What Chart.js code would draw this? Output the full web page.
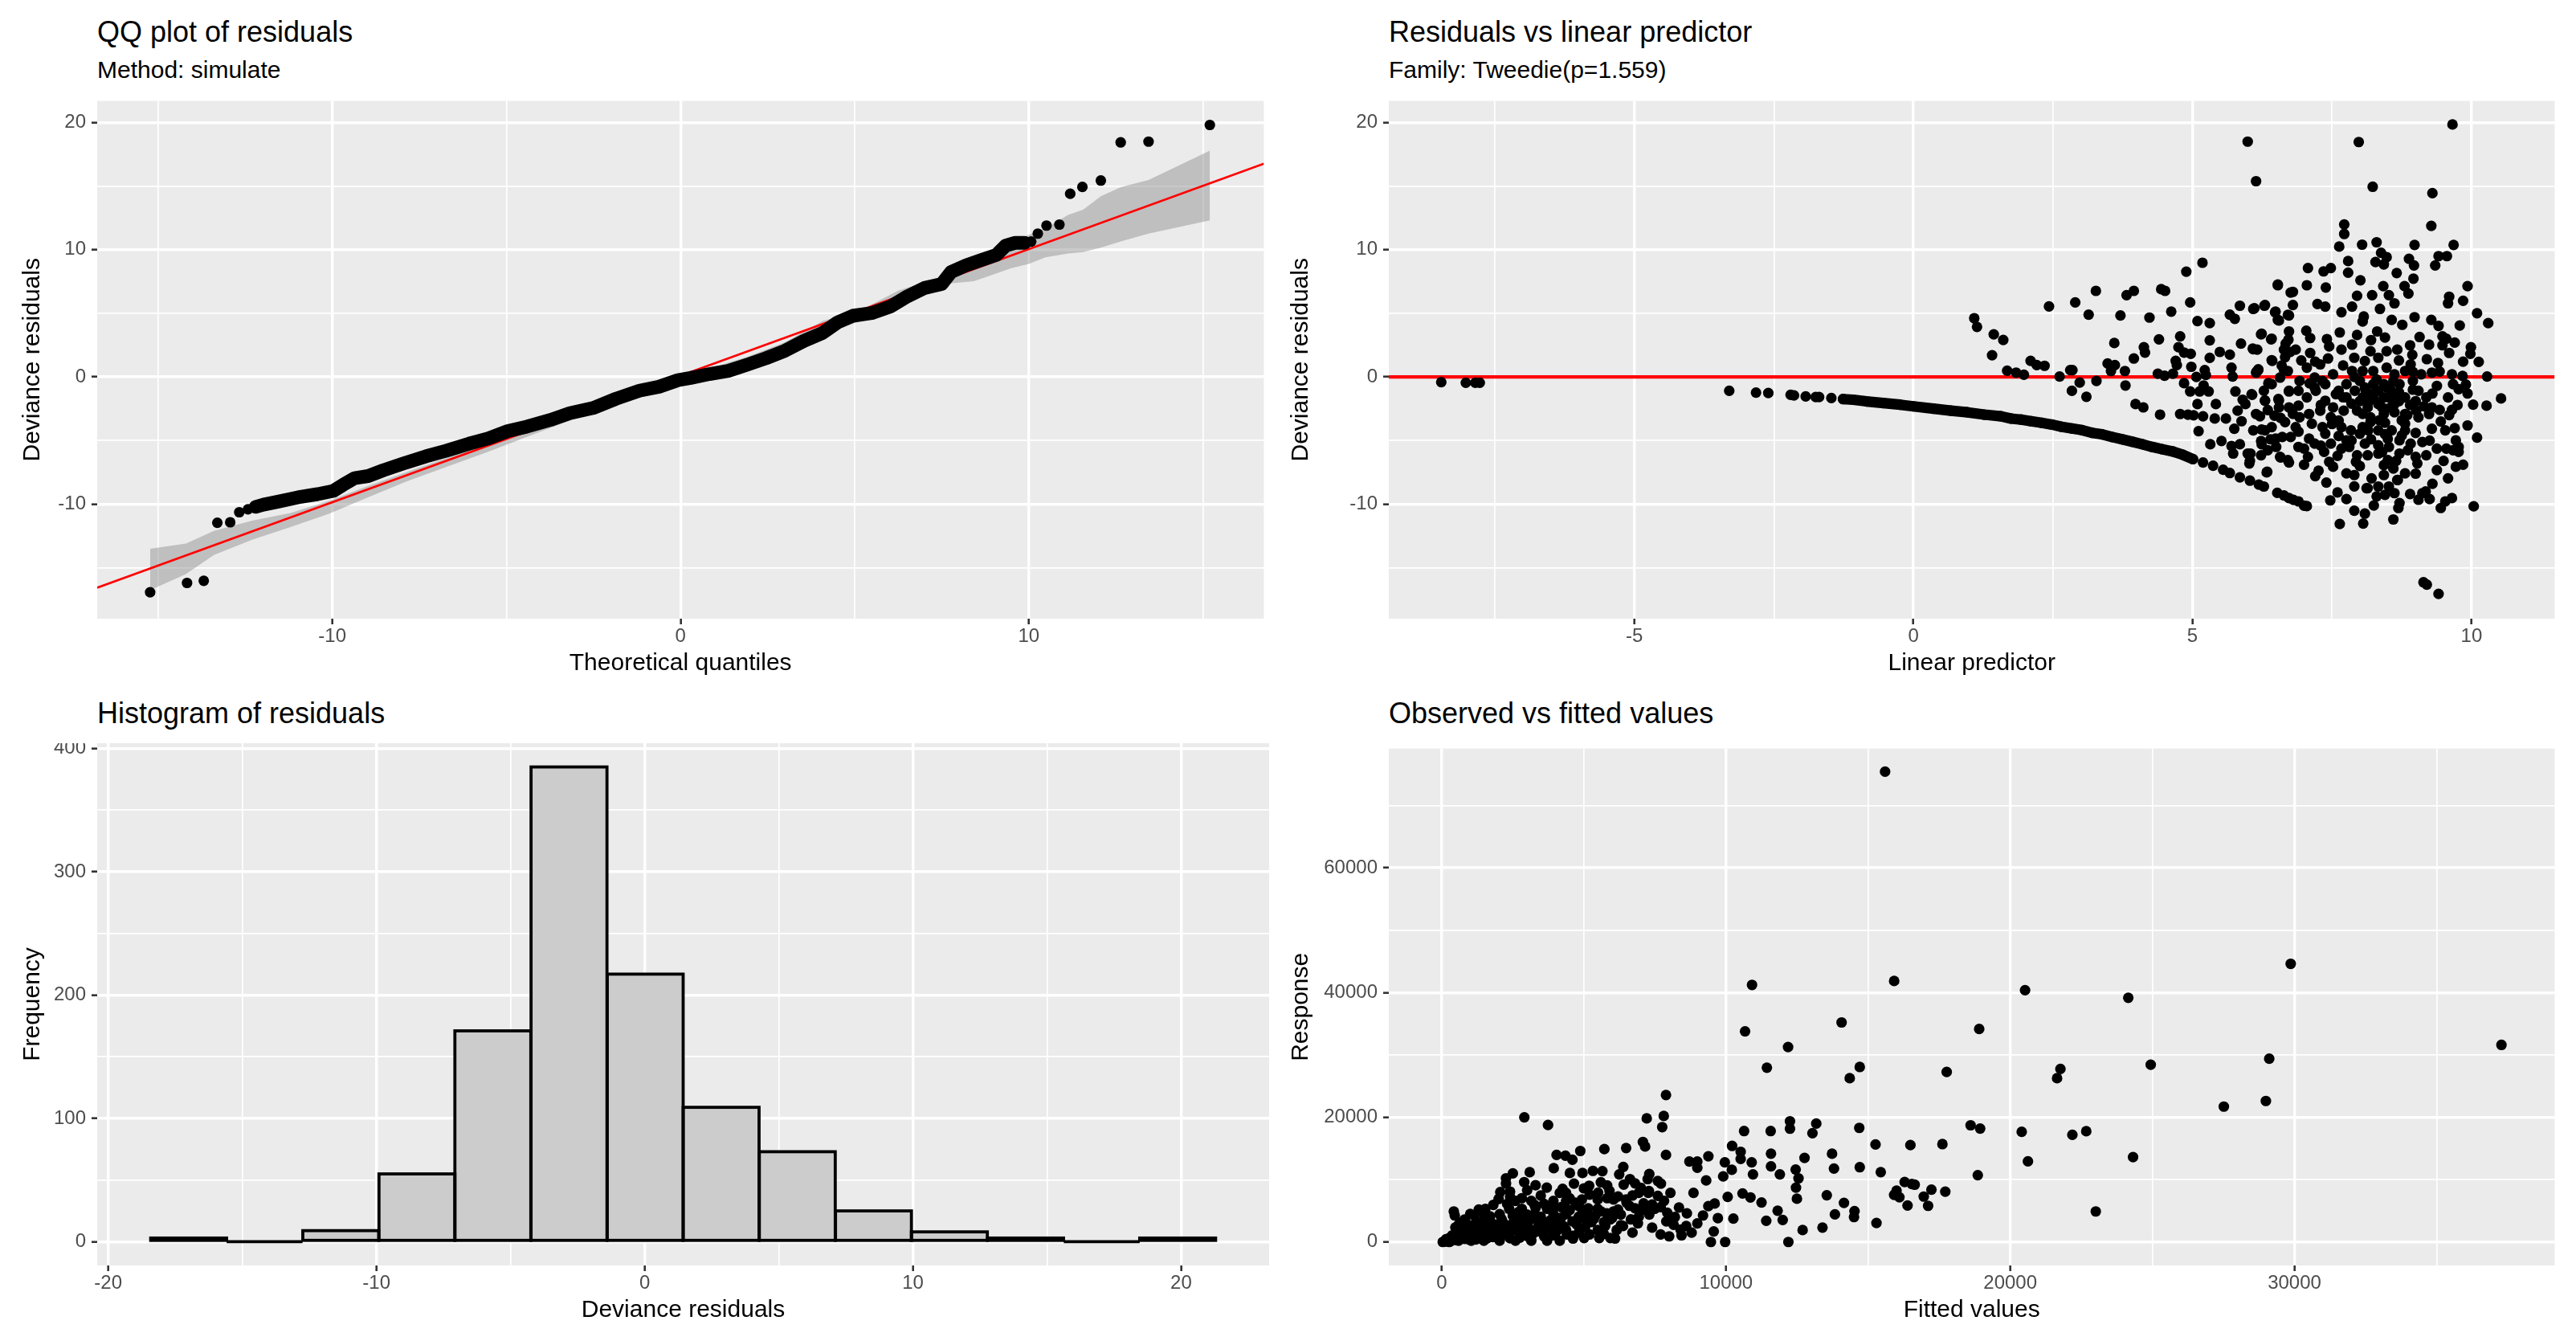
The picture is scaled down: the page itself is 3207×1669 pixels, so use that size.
<!DOCTYPE html>
<html><head><meta charset="utf-8">
<script src="https://cdn.jsdelivr.net/npm/chart.js@4.4.1/dist/chart.umd.min.js"></script>
<style>
html,body{margin:0;padding:0;background:#fff}
body{width:3207px;height:1669px;position:relative;overflow:hidden;font-family:'Liberation Sans',Arial,sans-serif}
.t{position:absolute;white-space:nowrap;line-height:1;color:#000}
.big{font-size:36px}.sub{font-size:30px}
canvas{position:absolute}
</style></head><body>
<div class="t big" style="left:121px;top:21.5px">QQ plot of residuals</div>
<div class="t sub" style="left:121px;top:71.6px">Method: simulate</div>
<div class="t big" style="left:1729px;top:21.5px">Residuals vs linear predictor</div>
<div class="t sub" style="left:1729px;top:71.6px">Family: Tweedie(p=1.559)</div>
<div class="t big" style="left:121px;top:869.5px">Histogram of residuals</div>
<div class="t big" style="left:1729px;top:869.5px">Observed vs fitted values</div>
<canvas id="c1" width="1580" height="731" style="left:0px;top:119px"></canvas>
<canvas id="c2" width="1587" height="731" style="left:1600px;top:119px"></canvas>
<canvas id="c3" width="1580" height="730" style="left:0px;top:925px"></canvas>
<canvas id="c4" width="1587" height="730" style="left:1600px;top:925px"></canvas>
<script>
// ---------- DATA ----------
// QQ plot: dense band of points (theoretical, observed)
const qqBand = [[-12.2,-10.21],[-11.98,-10.04],[-11.53,-9.79],[-10.98,-9.46],[-10.42,-9.21],[-9.97,-8.96],[-9.69,-8.48],[-9.36,-7.96],[-8.97,-7.79],[-8.53,-7.33],[-7.97,-6.81],[-7.30,-6.23],[-6.74,-5.81],[-6.08,-5.25],[-5.52,-4.83],[-4.96,-4.25],[-4.41,-3.90],[-3.74,-3.38],[-3.18,-2.85],[-2.51,-2.44],[-1.85,-1.71],[-1.18,-1.08],[-0.62,-0.77],[-0.07,-0.25],[0.29,-0.08],[0.83,0.23],[1.37,0.48],[1.91,0.96],[2.46,1.48],[3.0,2.06],[3.54,2.83],[4.08,3.46],[4.51,4.29],[4.95,4.81],[5.49,5.02],[6.03,5.54],[6.47,6.27],[7.01,7.0],[7.50,7.31],[7.77,8.25],[8.20,8.77],[8.63,9.19],[9.07,9.6],[9.34,10.33],[9.61,10.54],[9.88,10.54]];
const qqOutliers = [[-15.23,-16.92],[-14.17,-16.19],[-13.69,-16.02],[-13.30,-11.46],[-12.93,-11.42],[-12.67,-10.63],[-12.42,-10.40],[10.07,10.65],[10.26,11.27],[10.51,11.9],[10.88,11.98],[11.19,14.4],[11.54,14.94],[12.07,15.44],[12.64,18.44],[13.44,18.5],[15.2,19.81]];
// QQ reference band
const ribbonX  = [-15.23,-14.2,-13.4,-12.3,-11.2,-10.1,-9.0,-7.9,-6.7,-5.6,-4.5,-3.4,-2.3,-1.2,0.29,1.91,3.0,4.08,5.17,6.25,7.55,8.42,8.96,9.5,10.0,10.48,11.13,11.56,12.07,12.64,13.44,15.2];
const ribbonLo = [-16.75,-15.5,-14.0,-12.8,-11.8,-10.75,-9.5,-8.25,-7.05,-5.95,-4.8,-3.65,-2.55,-1.45,-0.19,0.85,2.0,3.35,4.4,5.85,7.31,7.52,8.04,8.56,8.88,9.4,9.71,9.81,10.17,10.65,11.27,12.31];
const ribbonHi = [-13.5,-13.1,-12.1,-11.3,-10.7,-9.75,-8.6,-7.5,-6.35,-5.25,-4.2,-3.1,-2.0,-0.9,0.23,1.58,2.73,4.4,5.23,6.79,7.94,9.19,9.6,10.65,11.17,11.69,12.73,13.15,14.2,14.92,15.48,17.79];
const qqSlope = 0.995, qqIntercept = 0.1;

// Residuals vs linear predictor
const lpCurve = [[-1.26,-1.74],[-1.08,-1.79],[-0.84,-1.92],[-0.54,-2.05],[-0.24,-2.18],[0,-2.31],[0.36,-2.49],[0.67,-2.65],[0.97,-2.78],[1.27,-2.96],[1.57,-3.09],[1.75,-3.27],[1.93,-3.35],[2.11,-3.48],[2.30,-3.61],[2.48,-3.74],[2.66,-3.92],[2.84,-4.05],[3.02,-4.18],[3.20,-4.39],[3.38,-4.51],[3.56,-4.72],[3.74,-4.90],[3.92,-5.09],[4.10,-5.29],[4.28,-5.50],[4.46,-5.68],[4.65,-5.86],[4.83,-6.12],[5.01,-6.46]];
const lpPoints = [[-8.46,-0.41],[-8.02,-0.45],[-7.85,-0.45],[-7.77,-0.45],[-3.30,-1.09],[-2.82,-1.23],[-2.60,-1.26],[-2.20,-1.40],[-2.14,-1.45],[-1.93,-1.53],[-1.75,-1.58],[-1.69,-1.58],[-1.47,-1.66],
[5.19,-6.72],[5.37,-6.98],[5.55,-7.29],[5.67,-7.55],[5.85,-7.89],[6.03,-8.15],[6.19,-8.46],[6.28,-8.61],[6.52,-9.11],[6.64,-9.31],[6.73,-9.52],[6.81,-9.66],[6.90,-9.78],[7.0,-10.12],[7.05,-10.15],
[5.99,18.50],[6.14,15.39],[1.09,4.62],[1.14,3.94],[1.44,3.35],[1.61,2.91],[1.41,1.71],[1.68,0.49],[1.84,0.34],[1.98,0.18],[2.10,1.27],[2.21,0.93],[2.35,0.88],[2.43,5.55],[2.62,0.03],[2.81,0.54],[2.85,0.54],[2.90,5.86],[2.84,-1.09],[2.98,-0.44],[3.10,-1.56],[3.14,4.90],[3.27,6.77],[3.28,-0.31],[3.48,1.06],[3.54,0.47],[3.61,0.93],[3.60,2.67],[3.71,4.83],[3.79,0.47],[3.80,-0.67],[3.82,6.43],[3.95,6.77],[3.95,1.45],[3.98,-2.13],[4.12,-2.39],[4.13,2.34],[4.15,1.92],[4.23,4.67],[4.40,2.96],[4.38,0.26],[4.44,6.90],[4.51,6.77],[4.42,-2.96],[4.50,0.10],[4.62,5.14],[4.65,0.26],[4.70,1.27],[4.72,0.93],[4.75,2.34],[4.78,3.19],[4.78,-2.91],[4.85,1.92],[4.85,-0.49],[4.89,8.28],[4.92,-2.96],[4.96,-1.14],[4.96,5.86],[4.97,1.82],[4.98,0.80],[5.02,-3.01],[5.07,0],[5.09,4.39],[5.09,-2.13],[5.11,-4.26],[5.13,-1.14],[5.18,8.98],[5.19,-3.09],[5.20,-0.67],[5.22,0.54],[5.24,0.16],[5.29,-1.14],[5.31,4.23],[5.31,2.88],[5.31,1.50],[5.32,-5.29],[5.42,-2.13],[5.40,-3.27],[5.49,1.97],[5.52,-5.03],[5.60,-3.27],[5.67,4.90],[5.67,1.76],[5.70,0.73],[5.72,0.03],[5.76,4.57],[5.77,-1.14],[5.81,-2.65],[5.85,5.60],[5.87,2.62],[5.88,-3.48],[5.90,-1.79],[5.75,-4.07],[5.70,-5.42],[5.73,-6.02],[5.85,-5.29],[5.99,-6.02],[6.03,-6.59],[6.07,-1.40],[6.09,5.35],[6.09,2.18],[6.15,0.42],[6.18,0.54],[6.21,-3.09],[6.23,3.35],[6.29,5.60],[6.30,-1.84],[6.24,-4.13],[6.24,-5.29],[6.33,-7.50],[6.36,-0.49],[6.40,-4.90],[6.43,1.27],[6.41,2.96],[6.48,5.09],[6.53,7.21],[6.55,-1.84],[6.55,4.44],[6.58,-6.33],[6.58,-3.22],[6.64,0.54],[6.67,2.62],[6.73,-6.72],[6.73,4.83],[6.76,6.64],[6.73,-1.14],[6.73,-2.39],[6.75,1.97],
[7.98,18.47],[8.23,14.95],[9.30,14.45],[9.66,19.85],[9.28,11.88],[7.72,11.99],[7.72,11.24],[7.63,10.25],[8.04,10.4],[8.30,10.59],[8.98,10.38],[9.68,10.38],[9.41,9.50],[9.56,9.50],[9.35,8.77],[8.38,9.76],[8.48,9.42],[8.28,9.03],[8.43,8.85],[8.88,9.29],[8.97,8.77],[8.96,7.73],[8.66,8.17],[7.79,9.11],[7.79,8.20],[7.07,8.56],[7.35,8.30],[7.48,8.56],[8.01,7.60],[7.05,7.21],[7.39,7.03],[6.53,7.27],[6.80,6.69],[8.42,7.14],[8.80,7.14],[8.87,6.56],[8.22,6.43],[7.95,6.38],[8.52,6.43],[8.62,5.79],[9.93,7.14],[9.60,6.31],[9.85,5.99],[9.58,5.79],[10.10,5.01],[10.30,4.23],[9.79,4.05],[9.28,4.49],[8.98,4.70],[9.41,4.02],[9.48,3.19],[9.99,2.34],[9.98,1.82],[10.13,1.19],[10.28,0.03],[10.53,-1.69],[9.60,1.89],[9.48,2.49],[9.07,3.14],[9.24,2.54],[8.94,1.74],[8.90,2.49],[8.76,4.10],[8.57,4.49],[8.36,5.35],[8.07,4.75],[7.86,5.53],[7.67,5.09],[7.38,5.53],[7.24,5.73],[6.80,5.66],[6.71,4.88],[6.49,5.14],[6.53,4.49],[6.30,5.66],[6.11,5.40],[6.24,3.40],[6.42,3.01],[6.73,3.58],[6.72,2.93],[7.04,3.63],[7.11,3.06],[7.41,2.98],[7.64,3.50],[7.86,2.54],[8.05,4.36],[8.31,3.58],[6.08,2.23],[6.16,2.15],[6.64,2.15],[6.85,2.15],[6.42,1.32],[6.66,1.56],[7.11,1.89],[7.43,1.45],[7.67,2.15],[7.90,1.51],[8.09,1.25],[8.48,2.02],[8.67,2.15],[6.14,0.34],[6.18,0.60],[6.57,-0.05],[6.71,0.47],[6.92,-0.31],[7.19,-0.05],[7.33,-0.31],[7.52,0.21],[7.76,-0.57],[8.00,-0.31],[8.24,-0.57],[8.48,-0.83],[8.71,-0.57],[8.95,-0.31],[9.10,0.21],[9.29,0.34],[9.43,0.42],[9.65,0.21],[9.84,0.08],[9.38,-0.70],[9.67,-0.57],[9.77,-0.96],[9.93,-1.30],[10.03,-2.18],[10.27,-2.26],[9.58,-1.61],[9.43,-2.59],[9.65,-2.59],[9.24,-2.91],[9.29,-2.39],[9.01,-2.65],[8.81,-1.61],[8.62,-1.35],[8.43,-1.61],[8.19,-1.35],[8.05,-1.61],[7.91,-1.09],[7.76,-1.61],[7.57,-1.35],[7.38,-1.87],[7.21,-1.09],[7.05,-1.61],[6.90,-2.26],[6.73,-1.09],[6.54,-1.74],[6.30,-1.87],[6.06,-1.35],[5.95,-2.13],[6.14,-2.91],[6.47,-3.04],[6.66,-3.55],[6.92,-3.17],[7.14,-3.68],[7.33,-3.94],[7.62,-3.42],[7.84,-4.20],[8.00,-4.46],[8.19,-3.55],[8.33,-4.20],[8.50,-4.85],[8.71,-4.98],[8.91,-5.24],[8.81,-3.68],[9.05,-3.17],[9.29,-4.07],[9.53,-4.20],[9.70,-4.02],[9.93,-3.81],[10.10,-4.77],[9.72,-4.98],[9.67,-5.76],[9.77,-5.89],[9.55,-5.63],[9.38,-5.63],[9.12,-5.11],[9.19,-6.15],[9.00,-6.28],[9.03,-6.80],[8.81,-7.58],[8.67,-8.10],[8.71,-6.02],[8.50,-6.54],[8.33,-6.02],[8.14,-6.15],[7.95,-6.15],[7.93,-6.67],[7.76,-7.58],[7.90,-7.71],[8.21,-7.97],[8.43,-7.71],[8.33,-8.61],[8.52,-8.61],[8.14,-8.74],[8.43,-6.93],[7.67,-5.63],[7.81,-5.50],[7.62,-4.64],[7.45,-6.67],[7.52,-7.06],[7.36,-5.89],[7.26,-7.37],[7.09,-4.85],[7.07,-6.28],[7.00,-5.63],[6.76,-4.72],[6.71,-6.54],[6.57,-6.28],[6.49,-4.85],[6.30,-4.20],[6.35,-5.76],[6.23,-6.15],[6.04,-6.02],[6.02,-6.80],[6.34,-7.45],[7.47,-9.70],[7.60,-9.08],[7.76,-9.60],[7.64,-11.55],[7.90,-10.51],[8.09,-10.74],[8.06,-11.52],[8.12,-8.74],[8.30,-9.39],[8.45,-9.26],[8.62,-9.13],[8.71,-9.91],[8.69,-10.30],[8.68,-8.10],[9.05,-9.65],[9.12,-9.13],[9.18,-9.00],[9.45,-10.30],[9.53,-9.78],[9.65,-9.52],[9.58,-7.97],[9.72,-7.06],[9.38,-7.32],[9.77,-5.50],[10.04,-10.17],[9.14,-16.14],[9.20,-16.32],[9.41,-17.05],
[8.09,-0.83],[8.24,-1.35],[8.33,-1.09],[8.43,-0.57],[8.52,-1.61],[8.62,-2.13],[8.33,-2.13],[8.14,-2.39],[7.95,-2.65],[8.19,-3.17],[8.43,-2.91],[8.62,-2.78],[8.81,-2.91],[8.24,0.47],[8.48,0.73],[8.33,1.51],[8.19,2.02],[8.05,0.47],[7.86,0.47],[8.62,0.21],[8.81,0.47],[8.91,0.99],[9.05,-1.09],[9.19,-1.61],[8.81,-4.20],[8.57,-4.20],[8.09,-5.24],[8.33,-5.37],[8.52,-5.50],[8.86,-5.76],[8.05,-3.94],[7.67,-3.94],[7.48,-3.17],[7.29,-2.65],[7.09,-2.91],[7.52,-2.39],[7.71,-2.65],[6.85,-3.94],[6.61,-4.72],[6.42,-3.94],[6.23,-5.03],[6.09,-4.20],[7.38,-4.46],[7.19,-5.24],[6.90,-5.50],[7.48,-5.24],[7.76,-4.98],[7.19,-0.83],[7.38,-0.57],[7.62,-1.09],[6.90,-1.09],[7.05,0.73],[7.29,0.99],[6.42,-0.57],[6.28,-1.09],
[8.0,-1.9],[8.15,-2.0],[8.4,-2.4],[8.55,-1.0],[8.7,-1.9],[8.9,-2.2],[8.3,-0.2],[8.6,-0.3],[8.75,-3.4],[8.45,-3.6],[8.1,-1.0],[7.85,-2.1],[8.95,-1.0],[8.2,-4.9],[8.65,-6.6],[8.4,-5.9],
[7.1,-0.5],[7.3,-2.2],[7.5,-3.7],[7.7,-1.6],[7.9,0.0],[8.05,-2.9],[8.25,-1.7],[8.35,-3.4],[8.55,-2.4],[8.7,-1.2],[8.85,-3.0],[9.0,-1.9],[9.15,-2.3],[9.3,-1.3],[9.45,-3.5],[9.6,-3.0],[9.75,-2.2],[9.9,-0.6],[8.15,-4.2],[8.45,-4.5],[8.75,-4.6],[9.0,-4.4],[9.25,-5.0],[9.5,-6.6],[9.85,-6.9],[7.3,-5.4],[7.6,-6.2],[7.85,-5.0],[8.0,-7.0],[8.6,-7.2],[9.0,-7.6],[9.3,-8.4],[7.2,1.2],[7.45,2.4],[7.7,0.9],[7.95,3.3],[8.2,2.9],[8.45,3.1],[8.7,1.3],[8.95,0.4],[9.2,1.4],[9.4,1.1],[9.55,3.0],[9.7,2.7],[9.85,1.2],[6.95,1.3],[6.6,0.9],[6.35,-2.6],[6.55,-2.4],[6.8,-2.9],[6.5,-5.5],[6.9,-4.3],[7.0,-6.9],[7.2,-7.8],[7.4,-8.3],[7.9,-8.6],[8.6,-11.2],[8.25,-10.1],[9.25,-9.6],[8.9,-9.2]];

// Histogram of residuals
const histCenters = [-17.0,-14.17,-11.33,-8.49,-5.66,-2.82,0.02,2.85,5.69,8.53,11.36,14.20,17.04,19.87];
const histCounts  = [3,0,9,55,171,385,217,109,73,25,8,3,0,3];

// Observed vs fitted (fitted, response)
const fitPoints = [[10915,41230],[10670,33785],[12183,31274],[11438,27955],[7888,23573],[7210,19828],[7810,20211],[7755,18424],[2904,20000],[3738,18765],[7888,13957],[10636,17787],[11571,17787],[12250,19360],[12250,18169],[10214,15403],[10515,14467],[10515,13318],[10903,12765],[10948,10850],[11582,14169],[11582,12127],[11894,10850],[12450,11616],[12550,10212],[12461,8723],[12494,6935],[12762,13488],[12695,1915],[12194,0],[11816,5021],[11994,3532],[11415,3404],[11249,6340],[10859,7148],[10581,7787],[10258,3745],[10058,7234],[9958,12765],[10203,11573],[9902,10510],[9301,9871],[9969,0],[9468,0],[9568,1702],[9713,3830],[9602,6170],[9379,5744],[9190,4255],[8856,7872],[8990,2979],[8790,1489],[8434,1064],[8155,2766],[8600,2553],[8345,5532],[8623,4595],[8044,7872],[8712,12893],[8990,12893],[9379,13744],[8990,11914],[7710,9361],[7599,9787],[7288,8170],[7154,15318],[7076,16041],[6486,15063],[5719,14893],[4873,14594],[4595,13191],[4350,13829],[4039,13957],[3939,11829],[3093,11191],[4506,11063],[4951,11063],[5318,11403],[5652,11361],[6386,12042],[6242,10850],[6620,10084],[7243,10084],[4651,9361],[5185,9020],[5596,9574],[5819,9063],[4250,8510],[3694,8723],[2259,10212],[2259,9361],[2058,7999],[2403,8084],[2403,7234],[3004,8297],[4150,7872],[4373,7872],[4929,6808],[5485,6808],[5819,7021],[6041,6808],[6486,6808],[6709,7446],[6931,7872],[7265,7872],[7821,6595],[7488,5319],[7933,4680],[7265,5532],[6931,4042],[6653,3617],[6375,2553],[6709,1489],[6097,553],[5930,638],[5541,638],[5007,638],[4617,553],[5930,3617],[6041,4893],[5485,5319],[5151,4468],[4818,5744],[4373,6595],[3927,6595],[3705,5319],[3260,5957],[3260,4468],[2815,5319],[2592,6595],[1814,5957],[1535,5319],[1146,4255],[868,2979],[423,4893],[456,4255],[1480,3617],[2036,4468],[2592,4042],[3037,3191],[3482,4042],[3927,4468],[4373,4468],[4818,4042],[5263,3191],[5708,3191],[4150,2766],[3705,2340],[3260,1915],[2815,2340],[2370,1915],[1925,2340],[1480,1915],[1035,1915],[701,1489],[367,1064],[145,425],[33,0],[256,0],[590,213],[1035,213],[1480,213],[2036,213],[2592,213],[3149,213],[3705,213],[4150,213],[923,851],[1702,1064],[2370,851],[3037,851],[3927,1064],[4818,1489],[4373,1915],[5040,2340],[5485,1915],[6153,1915],[478,2340],[701,3191],[1257,2766],[1702,3191],[2147,3191],[2592,3191],[1480,4680],[2370,5319],[2815,7021],[3149,6595],[3482,7446],
[100,50],[300,100],[500,300],[800,500],[1200,400],[1600,600],[2000,900],[2400,600],[2800,1100],[3200,1300],[3600,900],[4000,1500],[4400,1200],[1000,1200],[1300,1700],[1700,2000],[2200,1500],[2600,2600],[3000,2900],[3400,2500],[3800,3400],[4200,3900],[4600,3300],[5000,3800],[5400,4200],[5800,4600],[6200,5200],[6600,5800],[7000,5000],[7400,6000],[600,1800],[900,2300],[1500,3800],[2500,4200],[2800,3600],[3300,5500],[4700,6300],[5200,7600],[5900,8200],[6400,9200],[7000,8700],[7600,7400],
[150,200],[250,600],[400,900],[550,1300],[700,700],[850,1600],[950,400],[1100,900],[1250,1400],[1400,1000],[1550,2400],[1650,1300],[1800,800],[1900,1700],[2100,2200],[2300,1200],[2450,2800],[2650,1800],[2750,700],[2950,2000],[3100,3600],[3350,1700],[3500,3000],[3650,2100],[3850,2600],[4050,3300],[4300,2500],[4500,5100],[4750,2800],[4950,4600],[5150,5400],[5350,3700],[5600,4900],[5750,2600],[6000,3900],[6300,4400],[6500,6300],[6800,5400],[7100,6200],[7300,4400],[7700,5600],[7900,3300],[8200,4000],[2100,3700],[2700,4800],[3000,4400],[3600,6100],[3900,5300],[4200,5600],[1200,3100],[1700,4100],[2300,6100],[800,3600],[600,2800],[1000,2600],[1800,2900],[2600,3400],[3400,3300],[4100,2000],[4600,1000],[5200,1200],[5700,1300],[6300,2700],[6900,3000],[7400,2300],[7700,1200],[8000,900],[8400,2000],[5000,8600],[5500,7900],[6200,7300],[6800,9400],[7300,10900],[4500,7000],[3300,9100],[2900,9600],[2500,11000],[2000,6900],[1300,5200],[1000,4500],
[15596,75424],[15915,41863],[20521,40381],[24152,39164],[29867,44614],[37281,31608],[14066,35212],[18907,34154],[14705,28063],[14352,26264],[17764,27269],[21765,27745],[21647,26264],[24942,28434],[29111,29386],[27514,21714],[28993,22614],[13175,18984],[13041,17450],[14688,18296],[18605,18719],[18941,18190],[20403,17661],[22185,17185],[22673,17767],[15260,15640],[16487,15534],[17613,15693],[13730,14159],[13798,11778],[14705,11989],[15444,11196],[20622,12926],[24320,13614],[18857,10720],[13545,7493],[14150,6276],[14520,4953],[14503,4000],[13831,4423],[13394,2307],[15293,3048],[16285,9609],[16537,9291],[16638,9186],[16000,8233],[15915,7546],[16100,7175],[16386,5852],[16957,7281],[17226,8392],[17109,5799],[17714,8074],[23009,4900]];

// Axis ticks (major labelled, minor grid only)
const qqXMajor = [-10,0,10], qqXMinor = [-15,-5,5,15];
const resYMajor = [-10,0,10,20], resYMinor = [-15,-5,5,15];
const lpXMajor = [-5,0,5,10], lpXMinor = [-7.5,-2.5,2.5,7.5];
const hXMajor = [-20,-10,0,10,20], hXMinor = [-15,-5,5,15];
const hYMajor = [0,100,200,300,400], hYMinor = [50,150,250,350];
const fXMajor = [0,10000,20000,30000], fXMinor = [5000,15000,25000,35000];
const fYMajor = [0,20000,40000,60000], fYMinor = [10000,30000,50000,70000];

// ---------- RENDER ----------
Chart.defaults.font.family = "'Liberation Sans', Arial, sans-serif";
const toXY = a => a.map(([x,y]) => ({x, y}));

function axis(o){
  const all = o.major.concat(o.minor).filter(v => v >= o.min && v <= o.max).sort((a,b)=>a-b);
  const isMajor = c => c && c.tick && o.major.includes(c.tick.value);
  return {
    type:'linear', position:o.pos, min:o.min, max:o.max, offset:false,
    afterBuildTicks: ax => { ax.ticks = all.map(v => ({value:v})); },
    afterFit: ax => {
      if (o.pos === 'left') ax.width = o.size; else ax.height = o.size;
      ax.paddingTop = ax.paddingBottom = ax.paddingLeft = ax.paddingRight = 0;
    },
    grid:{ offset:false, color:'#FFFFFF', lineWidth: c => isMajor(c) ? 3.4 : 1.7,
      drawTicks:true, tickLength:7, tickWidth:2.6,
      tickColor: c => isMajor(c) ? '#333333' : 'rgba(0,0,0,0)' },
    border:{display:false},
    ticks:{ autoSkip:false, maxRotation:0, minRotation:0, padding: o.pos==='left' ? 7 : 1,
      color:'#4D4D4D', font:{size:24}, callback: v => o.major.includes(v) ? String(v) : '' },
    title:{ display:true, text:o.title, color:'#000000', font:{size:30},
      padding: o.pos==='left' ? {top:o.tpad, bottom:0} : {top:0, bottom:o.tpad} }
  };
}
const panelBg = { id:'panelBg', beforeDraw(chart){
  const {ctx, chartArea:a} = chart; ctx.save(); ctx.fillStyle = '#EBEBEB';
  ctx.fillRect(a.left, a.top, a.right - a.left, a.bottom - a.top); ctx.restore(); } };
const barOutline = { id:'barOutline', afterDatasetsDraw(chart){
  const ctx = chart.ctx; ctx.save(); ctx.strokeStyle = '#000'; ctx.lineWidth = 3.8;
  chart.getDatasetMeta(0).data.forEach(el => {
    const p = el.getProps(['x','y','base','width'], true);
    ctx.strokeRect(p.x - p.width/2, Math.min(p.y, p.base), p.width, Math.abs(p.base - p.y));
  }); ctx.restore(); } };

const common = { responsive:false, animation:false, devicePixelRatio:1, events:[],
  layout:{padding:0}, plugins:{legend:{display:false}, title:{display:false}, tooltip:{enabled:false}} };
const PR = 6.6;
const pts = (data, order) => ({ data: toXY(data), showLine:false, pointRadius:PR, pointBackgroundColor:'#000', pointBorderWidth:0, order });
const band = (data, order, w) => ({ data: toXY(data), showLine:true, borderColor:'#000', borderWidth:w, borderCapStyle:'round', borderJoinStyle:'round', tension:0, pointRadius:PR, pointBackgroundColor:'#000', pointBorderWidth:0, fill:false, order });

// Panel 1: QQ plot
const q1min = -16.75, q1max = 16.75;
new Chart(document.getElementById('c1'), {
  type:'line',
  data:{ datasets:[
    pts(qqOutliers, 0),
    band(qqBand, 0, 17),
    { data:[{x:q1min, y:qqSlope*q1min+qqIntercept},{x:q1max, y:qqSlope*q1max+qqIntercept}], showLine:true, borderColor:'#FF0000', borderWidth:2.6, pointRadius:0, fill:false, order:1 },
    { data: ribbonX.map((x,i)=>({x, y:ribbonHi[i]})), showLine:true, borderWidth:0, pointRadius:0, fill:'+1', backgroundColor:'rgba(140,140,140,0.46)', order:2 },
    { data: ribbonX.map((x,i)=>({x, y:ribbonLo[i]})), showLine:true, borderWidth:0, pointRadius:0, fill:false, order:2 }
  ]},
  options:{ ...common, scales:{
    x: axis({pos:'bottom', min:q1min, max:q1max, major:qqXMajor, minor:qqXMinor, title:'Theoretical quantiles', size:80, tpad:6.5}),
    y: axis({pos:'left', min:-19.0, max:21.7, major:resYMajor, minor:resYMinor, title:'Deviance residuals', size:121, tpad:23})
  }},
  plugins:[panelBg]
});

// Panel 2: residuals vs linear predictor
const l2min = -9.40, l2max = 11.49;
new Chart(document.getElementById('c2'), {
  type:'line',
  data:{ datasets:[
    pts(lpPoints, 0),
    band(lpCurve, 0, PR*2),
    { data:[{x:l2min, y:0},{x:l2max, y:0}], showLine:true, borderColor:'#FF0000', borderWidth:4.2, pointRadius:0, fill:false, order:1 }
  ]},
  options:{ ...common, scales:{
    x: axis({pos:'bottom', min:l2min, max:l2max, major:lpXMajor, minor:lpXMinor, title:'Linear predictor', size:80, tpad:6.5}),
    y: axis({pos:'left', min:-19.0, max:21.7, major:resYMajor, minor:resYMinor, title:'Deviance residuals', size:129, tpad:2})
  }},
  plugins:[panelBg]
});

// Panel 3: histogram
new Chart(document.getElementById('c3'), {
  type:'bar',
  data:{ datasets:[{ data: histCenters.map((x,i)=>({x, y:histCounts[i]})), backgroundColor:'#CCCCCC', borderWidth:0, barPercentage:1, categoryPercentage:1, inflateAmount:0 }]},
  options:{ ...common, scales:{
    x: axis({pos:'bottom', min:-20.41, max:23.28, major:hXMajor, minor:hXMinor, title:'Deviance residuals', size:80, tpad:6.5}),
    y: axis({pos:'left', min:-19.25, max:404.25, major:hYMajor, minor:hYMinor, title:'Frequency', size:121, tpad:23})
  }},
  plugins:[panelBg, barOutline]
});

// Panel 4: observed vs fitted
new Chart(document.getElementById('c4'), {
  type:'line',
  data:{ datasets:[ pts(fitPoints, 0) ]},
  options:{ ...common, scales:{
    x: axis({pos:'bottom', min:-1864, max:39152, major:fXMajor, minor:fXMinor, title:'Fitted values', size:80, tpad:6.5}),
    y: axis({pos:'left', min:-3768, max:79138, major:fYMajor, minor:fYMinor, title:'Response', size:129, tpad:2})
  }},
  plugins:[panelBg]
});
</script>
</body></html>
